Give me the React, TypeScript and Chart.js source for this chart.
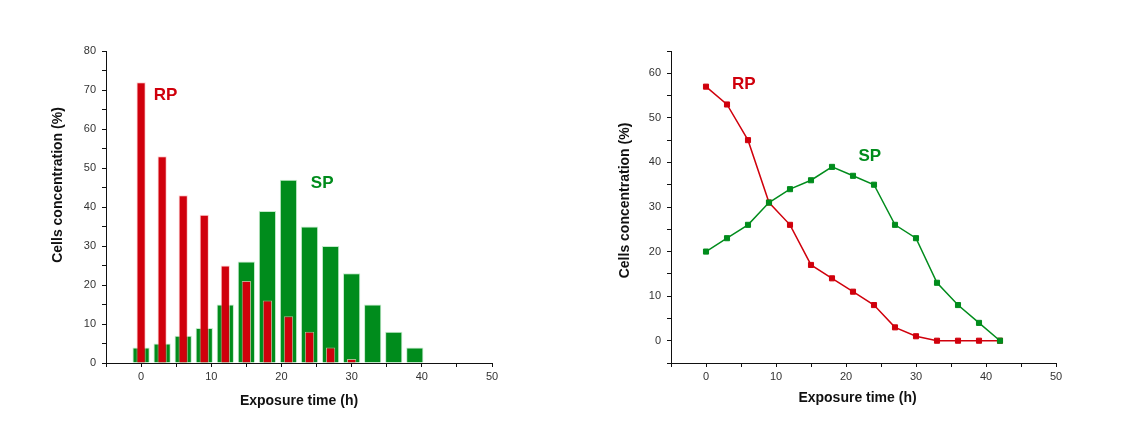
import React, { useEffect, useRef } from "react";
import { Chart, registerables } from "chart.js";

Chart.register(...registerables);

// ---- Data ----
const barTimes = [0, 3, 6, 9, 12, 15, 18, 21, 24, 27, 30, 33, 36, 39];
const barSP = [4, 5, 7, 9, 15, 26, 39, 47, 35, 30, 23, 15, 8, 4];
const barRP = [72, 53, 43, 38, 25, 21, 16, 12, 8, 4, 1];

const lineTimes = [0, 3, 6, 9, 12, 15, 18, 21, 24, 27, 30, 33, 36, 39, 42];
const lineRP = [57, 53, 45, 31, 26, 17, 14, 11, 8, 3, 1, 0, 0, 0, 0];
const lineSP = [20, 23, 26, 31, 34, 36, 39, 37, 35, 26, 23, 13, 8, 4, 0];

const xTitle = "Exposure time (h)";
const yTitle = "Cells concentration (%)";

// label anchors in data units
const leftLabels = [
  { text: "RP", x: 3.5, y: 68.7, color: "#d0000c" },
  { text: "SP", x: 25.8, y: 46, color: "#008c1c" },
];
const rightLabels = [
  { text: "RP", x: 5.4, y: 57.6, color: "#d0000c" },
  { text: "SP", x: 23.4, y: 41.3, color: "#008c1c" },
];

const RED = "#d0000c";
const GREEN = "#008c1c";
const FONT = "'Liberation Sans', Arial, sans-serif";

function pts(xs: number[], ys: number[]) {
  return ys.map((y, i) => ({ x: xs[i], y }));
}

function makeScales(
  yMin: number,
  yMax: number,
  yWidth: number,
  xHeight: number
): any {
  const tickCb = (v: any) => (Number(v) % 10 === 0 ? String(v) : "");
  return {
    x: {
      type: "linear",
      min: -5,
      max: 50,
      offset: false,
      grid: {
        display: true,
        offset: false,
        drawOnChartArea: false,
        drawTicks: true,
        tickLength: 4,
        tickColor: "#111",
        tickWidth: 1,
      },
      border: { display: true, color: "#111", width: 1 },
      ticks: {
        stepSize: 5,
        autoSkip: false,
        maxRotation: 0,
        padding: 3,
        color: "#333",
        font: { family: FONT, size: 11 },
        callback: tickCb,
      },
      afterFit: (s: any) => {
        s.height = xHeight;
        s.paddingLeft = 0;
        s.paddingRight = 0;
      },
    },
    y: {
      type: "linear",
      min: yMin,
      max: yMax,
      grid: {
        display: true,
        drawOnChartArea: false,
        drawTicks: true,
        tickLength: 4,
        tickColor: "#111",
        tickWidth: 1,
      },
      border: { display: true, color: "#111", width: 1 },
      ticks: {
        stepSize: 5,
        autoSkip: false,
        padding: 6,
        color: "#333",
        font: { family: FONT, size: 11 },
        callback: tickCb,
      },
      afterFit: (s: any) => {
        s.width = yWidth;
        s.paddingTop = 0;
        s.paddingBottom = 0;
      },
    },
  };
}

function textPlugin(
  labels: { text: string; x: number; y: number; color: string }[],
  yTitlePos: [number, number],
  xTitlePos: [number, number]
) {
  return {
    id: "texts",
    afterDraw(chart: any) {
      const ctx = chart.ctx;
      const xs = chart.scales.x;
      const ys = chart.scales.y;
      ctx.save();
      ctx.textAlign = "center";
      ctx.textBaseline = "middle";
      ctx.font = `bold 17px ${FONT}`;
      for (const l of labels) {
        ctx.fillStyle = l.color;
        ctx.fillText(l.text, xs.getPixelForValue(l.x), ys.getPixelForValue(l.y));
      }
      ctx.fillStyle = "#111";
      ctx.font = `bold 14px ${FONT}`;
      ctx.fillText(xTitle, xTitlePos[0], xTitlePos[1]);
      ctx.translate(yTitlePos[0], yTitlePos[1]);
      ctx.rotate(-Math.PI / 2);
      ctx.fillText(yTitle, 0, 0);
      ctx.restore();
    },
  };
}

function BarPanel() {
  const ref = useRef<HTMLCanvasElement>(null);
  useEffect(() => {
    const chart = new Chart(ref.current as HTMLCanvasElement, {
      type: "bar",
      data: {
        datasets: [
          {
            label: "RP",
            data: pts(barTimes, barRP),
            backgroundColor: RED,
            borderColor: "rgba(255,190,190,0.7)",
            borderWidth: 1,
            barPercentage: 0.44,
            categoryPercentage: 1,
            grouped: false,
            order: 0,
          } as any,
          {
            label: "SP",
            data: pts(barTimes, barSP),
            backgroundColor: GREEN,
            borderColor: "rgba(180,230,190,0.8)",
            borderWidth: 1,
            barPercentage: 0.82,
            categoryPercentage: 1,
            grouped: false,
            order: 1,
          } as any,
        ],
      },
      options: {
        animation: false,
        responsive: false,
        maintainAspectRatio: false,
        layout: { padding: { left: 0, top: 51, right: 68, bottom: 0 } },
        plugins: { legend: { display: false }, tooltip: { enabled: false } },
        scales: makeScales(0, 80, 106, 71),
      },
      plugins: [textPlugin(leftLabels, [58.5, 185], [299, 401.5])],
    });
    return () => chart.destroy();
  }, []);
  return (
    <canvas
      ref={ref}
      width={560}
      height={434}
      style={{ position: "absolute", left: 0, top: 0, width: 560, height: 434 }}
    />
  );
}

function LinePanel() {
  const ref = useRef<HTMLCanvasElement>(null);
  useEffect(() => {
    const common = {
      borderWidth: 1.5,
      pointStyle: "rect",
      pointRadius: 3.6,
      pointBorderWidth: 1,
      tension: 0,
    };
    const chart = new Chart(ref.current as HTMLCanvasElement, {
      type: "line",
      data: {
        datasets: [
          {
            label: "SP",
            data: pts(lineTimes, lineSP),
            borderColor: GREEN,
            backgroundColor: GREEN,
            pointBackgroundColor: GREEN,
            pointBorderColor: GREEN,
            ...common,
          } as any,
          {
            label: "RP",
            data: pts(lineTimes, lineRP),
            borderColor: RED,
            backgroundColor: RED,
            pointBackgroundColor: RED,
            pointBorderColor: RED,
            ...common,
          } as any,
        ],
      },
      options: {
        animation: false,
        responsive: false,
        maintainAspectRatio: false,
        layout: { padding: { left: 0, top: 51, right: 67, bottom: 0 } },
        plugins: { legend: { display: false }, tooltip: { enabled: false } },
        scales: makeScales(-5, 65, 111, 71),
      },
      plugins: [textPlugin(rightLabels, [65.5, 200.5], [297.5, 398.5])],
    });
    return () => chart.destroy();
  }, []);
  return (
    <canvas
      ref={ref}
      width={563}
      height={434}
      style={{ position: "absolute", left: 560, top: 0, width: 563, height: 434 }}
    />
  );
}

export default function App() {
  return (
    <div
      style={{
        position: "fixed",
        left: 0,
        top: 0,
        width: 1123,
        height: 434,
        background: "#fff",
        overflow: "hidden",
      }}
    >
      <BarPanel />
      <LinePanel />
    </div>
  );
}
